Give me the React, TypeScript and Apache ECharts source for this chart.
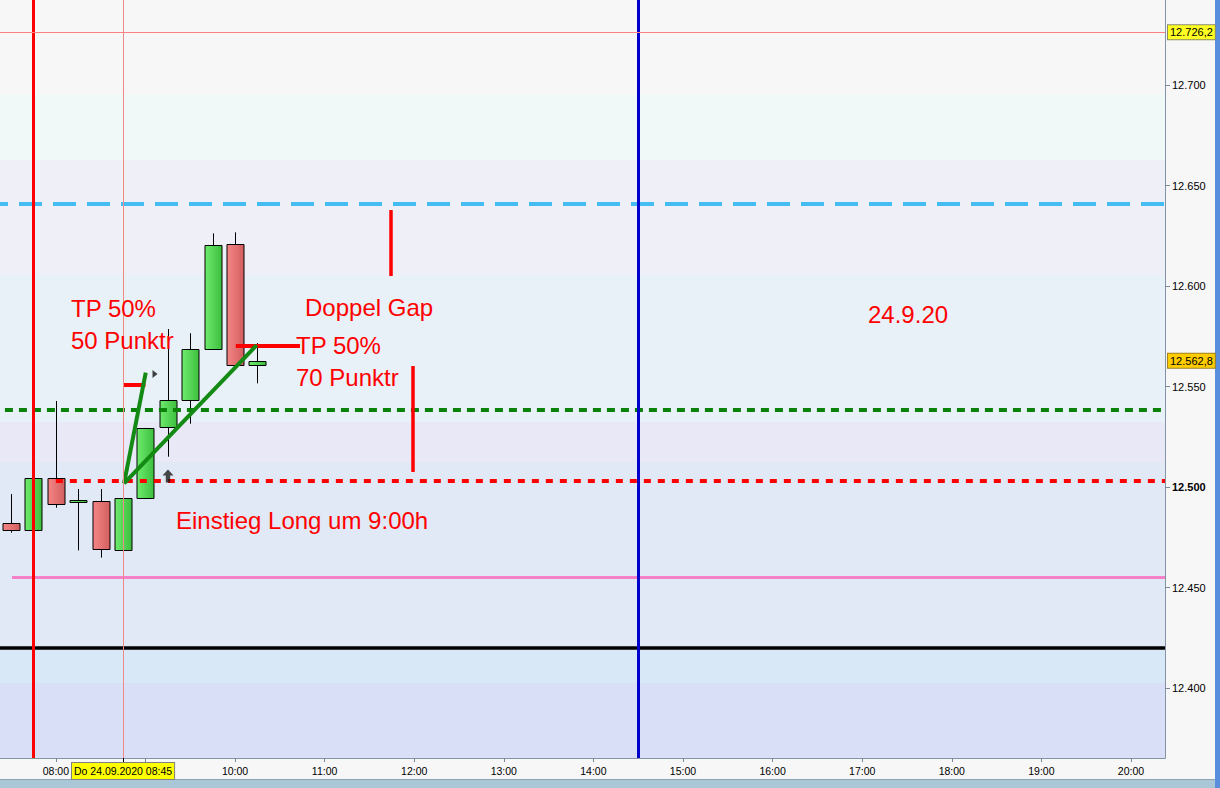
import React, { useEffect, useRef } from "react";
import * as echarts from "echarts";

// ---------- data ----------
const candleTimes = ["07:30", "07:45", "08:00", "08:15", "08:30", "08:45", "09:00", "09:15", "09:30", "09:45", "10:00", "10:15"];
const openPrices = [12482.0, 12478.5, 12504.3, 12492.4, 12492.9, 12468.5, 12494.4, 12529.7, 12543.1, 12568.5, 12620.9, 12560.6];
const closePrices = [12478.5, 12504.3, 12491.4, 12493.4, 12469.0, 12494.4, 12529.2, 12543.1, 12568.5, 12620.4, 12560.6, 12562.8];
const lowPrices = [12477.3, 12478.3, 12489.7, 12468.5, 12464.9, 12468.3, 12494.0, 12515.1, 12531.5, 12568.5, 12560.6, 12551.6];
const highPrices = [12496.5, 12504.5, 12542.8, 12499.0, 12499.0, 12494.6, 12529.4, 12578.6, 12576.5, 12626.2, 12626.7, 12571.6];

const priceTicks = [12400, 12450, 12500, 12550, 12600, 12650, 12700];
const hourTicks = ["08:00", "09:00", "10:00", "11:00", "12:00", "13:00", "14:00", "15:00", "16:00", "17:00", "18:00", "19:00", "20:00"];
const hiddenHourLabel = "09:00";
const crosshairTime = "08:45";
const crosshairLabel = "Do 24.09.2020 08:45";

const prevHigh = 12726.2;
const lastPrice = 12562.8;
const blueLevel = 12640.8;
const greenLevel = 12538.3;
const entryLevel = 12503.0;
const pinkLevel = 12455.2;
const blackLevel = 12419.9;

const bandEdges = [12742.3, 12695.5, 12662.7, 12605.5, 12532.3, 12512.4, 12419.9, 12402.5, 12365.2];
const bandColors = ["#F7F7F7", "#F0F8F8", "#EFEFF8", "#E8F0F8", "#E8E8F7", "#E1E8F6", "#D8E8F7", "#D8DFF6"];

const sessionStart = "07:45";
const usOpen = "14:30";
const entryLineStart = "08:00";
const greenLineStart = 445.9; // minutes
const pinkLineStart = 450.6; // minutes

// red annotation segments [t1, t2, price] and verticals [t, p1, p2]
const redTpMarks = [[525, 540, 12550.7], [600.5, 643.5, 12570.3]];
const redGapMarks = [[704.5, 12637.8, 12605.0], [719.2, 12560.2, 12507.5]];
// green trend lines [t1, p1, t2, p2]
const greenTrends = [[525.7, 12501.8, 540.2, 12556.9], [525.7, 12501.8, 614.5, 12570.6]];
const rightMarker = [546.4, 12556.2];
const upArrow = [555.1, 12505.5];

const X_MIN = 442.6;
const X_MAX = 1222.8;
const Y_MIN = 12365.2;
const Y_MAX = 12742.3;

// ---------- helpers ----------
const toMin = (s: string) => {
  const [h, m] = s.split(":").map(Number);
  return h * 60 + m;
};
const fmtTime = (v: number) => {
  const h = Math.floor(v / 60);
  const m = Math.round(v - h * 60);
  return String(h).padStart(2, "0") + ":" + String(m).padStart(2, "0");
};
const fmtPrice = (v: number) => {
  const s = Math.round(v).toString();
  return s.slice(0, s.length - 3) + "." + s.slice(-3);
};
const fmtPriceDec = (v: number) => {
  const s = v.toFixed(1);
  const [i, d] = s.split(".");
  return i.slice(0, i.length - 3) + "." + i.slice(-3) + "," + d;
};

const FONT = '"Liberation Sans", Arial, sans-serif';

export default function App() {
  const ref = useRef<HTMLDivElement>(null);

  useEffect(() => {
    if (!ref.current) return;
    const chart = echarts.init(ref.current, null, { renderer: "svg" });

    const candleData = candleTimes.map((t, i) => [toMin(t), openPrices[i], closePrices[i], lowPrices[i], highPrices[i]]);

    const greenFill = new echarts.graphic.LinearGradient(0, 0, 1, 0, [
      { offset: 0, color: "#6DEB6D" },
      { offset: 1, color: "#3DBE3D" },
    ]);
    const redFill = new echarts.graphic.LinearGradient(0, 0, 1, 0, [
      { offset: 0, color: "#F58585" },
      { offset: 1, color: "#D25F5F" },
    ]);

    const hLine = (t1: number, t2: number, p: number, style: any) => [
      { coord: [t1, p], lineStyle: style },
      { coord: [t2, p] },
    ];

    const markLines: any[] = [
      hLine(X_MIN, X_MAX, blueLevel, { color: "#45BDF2", width: 4, type: [23, 11], dashOffset: 15 }),
      hLine(greenLineStart, X_MAX, greenLevel, { color: "#0A820A", width: 4, type: [8, 6] }),
      hLine(toMin(entryLineStart), X_MAX, entryLevel, { color: "#FF0000", width: 4, type: [7, 7] }),
      hLine(pinkLineStart, X_MAX, pinkLevel, { color: "#F582C8", width: 3, type: "solid" }),
      hLine(X_MIN, X_MAX, blackLevel, { color: "#000000", width: 3.5, type: "solid" }),
      [{ coord: [toMin(sessionStart), Y_MIN], lineStyle: { color: "#FF0000", width: 3, type: "solid" } }, { coord: [toMin(sessionStart), Y_MAX] }],
      [{ coord: [toMin(usOpen), Y_MIN], lineStyle: { color: "#0000CC", width: 3, type: "solid" } }, { coord: [toMin(usOpen), Y_MAX] }],
      ...redTpMarks.map((s) => hLine(s[0], s[1], s[2], { color: "#FF0000", width: 4, type: "solid" })),
      ...redGapMarks.map((s) => [
        { coord: [s[0], s[1]], lineStyle: { color: "#FF0000", width: 3.5, type: "solid" } },
        { coord: [s[0], s[2]] },
      ]),
      ...greenTrends.map((s) => [
        { coord: [s[0], s[1]], lineStyle: { color: "#138A13", width: 4, type: "solid" } },
        { coord: [s[2], s[3]] },
      ]),
    ];

    const bands = bandColors.map((c, i) => [
      { yAxis: bandEdges[i], itemStyle: { color: c } },
      { yAxis: bandEdges[i + 1] },
    ]);

    const option: any = {
      animation: false,
      backgroundColor: "#F7F7F7",
      grid: { left: 0, top: 0, width: 1165, height: 758, containLabel: false },
      xAxis: {
        type: "value",
        min: X_MIN,
        max: X_MAX,
        position: "bottom",
        splitLine: { show: false },
        axisLine: { show: true, onZero: false, lineStyle: { color: "#8494A4", width: 1 } },
        axisTick: {
          show: true,
          length: 4,
          customValues: hourTicks.map(toMin),
          lineStyle: { color: "#7A8A9A" },
        },
        axisLabel: {
          show: true,
          customValues: hourTicks.filter((h) => h !== hiddenHourLabel).map(toMin),
          formatter: (v: number) => fmtTime(v),
          color: "#000",
          fontSize: 10.5,
          fontFamily: FONT,
          margin: 7,
        },
      },
      yAxis: {
        type: "value",
        min: Y_MIN,
        max: Y_MAX,
        position: "right",
        splitLine: { show: false },
        axisLine: { show: true, onZero: false, lineStyle: { color: "#8494A4", width: 1 } },
        axisTick: {
          show: true,
          length: 5,
          customValues: priceTicks,
          lineStyle: { color: "#7A8A9A" },
        },
        axisLabel: {
          show: true,
          customValues: priceTicks,
          formatter: (v: number) => (v === 12500 ? "{b|" + fmtPrice(v) + "}" : fmtPrice(v)),
          rich: { b: { fontWeight: "bold", fontSize: 11, color: "#000", fontFamily: FONT } },
          color: "#000",
          fontSize: 11,
          fontFamily: FONT,
          margin: 7,
        },
      },
      series: [
        {
          type: "line",
          data: [],
          z: 0,
          silent: true,
          markArea: { silent: true, data: bands },
        },
        {
          type: "custom",
          z: 2,
          silent: true,
          data: candleData,
          encode: { x: 0, y: [1, 2, 3, 4] },
          renderItem: (params: any, api: any) => {
            const t = api.value(0);
            const o = api.value(1);
            const c = api.value(2);
            const l = api.value(3);
            const h = api.value(4);
            const pO = api.coord([t, o]);
            const pC = api.coord([t, c]);
            const pL = api.coord([t, l]);
            const pH = api.coord([t, h]);
            const w = Math.round(api.size([15, 0])[0] * 0.76);
            const cx = Math.round(pO[0]) + 0.5;
            const top = Math.round(Math.min(pO[1], pC[1])) + 0.5;
            const bot = Math.round(Math.max(pO[1], pC[1])) + 0.5;
            const up = c >= o;
            return {
              type: "group",
              children: [
                {
                  type: "line",
                  shape: { x1: cx, y1: pH[1], x2: cx, y2: pL[1] },
                  style: { stroke: "#000", lineWidth: 1 },
                },
                {
                  type: "rect",
                  shape: { x: cx - w / 2, y: top, width: w, height: Math.max(bot - top, 2) },
                  style: { fill: up ? greenFill : redFill, stroke: "#000", lineWidth: 1 },
                },
              ],
            };
          },
        },
        {
          type: "line",
          data: [],
          z: 5,
          silent: true,
          markLine: {
            silent: true,
            symbol: ["none", "none"],
            label: { show: false },
            emphasis: { disabled: true },
            data: markLines,
          },
        },
        {
          type: "scatter",
          z: 6,
          silent: true,
          data: [
            { value: rightMarker, symbol: "path://M0,0 L6,4 L0,8 Z", symbolSize: [5, 8], itemStyle: { color: "#111" } },
            {
              value: upArrow,
              symbol: "path://M5,0 L10,6 L7,6 L7,13 L3,13 L3,6 L0,6 Z",
              symbolSize: [11, 13],
              itemStyle: { color: "#1C1C1C" },
            },
          ],
        },
      ],
    };

    chart.setOption(option);

    const yPx = (v: number) => chart.convertToPixel({ yAxisIndex: 0 }, v) as number;
    const xPx = (v: number) => chart.convertToPixel({ xAxisIndex: 0 }, v) as number;
    const crispX = Math.round(xPx(toMin(crosshairTime))) + 0.5;
    const crispY = Math.round(yPx(prevHigh)) + 0.5;

    const redText = (text: string, x: number, y: number) => ({
      type: "text",
      x,
      y,
      z: 20,
      style: { text, fill: "#FF0000", font: "24px " + FONT, verticalAlign: "middle", align: "left" },
    });

    const priceTag = (v: number, bg: string, border: string) => ({
      type: "text",
      x: 1168,
      y: yPx(v),
      z: 30,
      style: {
        text: fmtPriceDec(v),
        fill: "#000",
        font: "11px " + FONT,
        verticalAlign: "middle",
        align: "left",
        backgroundColor: bg,
        borderColor: border,
        borderWidth: 1,
        padding: [2, 2, 1, 2],
      },
    });

    chart.setOption({
      graphic: [
        { type: "line", shape: { x1: 0, y1: crispY, x2: 1165, y2: crispY }, style: { stroke: "#FF8080", lineWidth: 1 }, z: 8 },
        { type: "line", shape: { x1: crispX, y1: 0, x2: crispX, y2: 763 }, style: { stroke: "#F08A8A", lineWidth: 1 }, z: 8 },
        { type: "rect", shape: { x: 0, y: 780, width: 1220, height: 8 }, style: { fill: "#A9C7D7" }, z: 10 },
        { type: "rect", shape: { x: 0, y: 779, width: 1215, height: 1 }, style: { fill: "#8FA5B5" }, z: 10 },
        { type: "rect", shape: { x: 1215, y: 0, width: 5, height: 788 }, style: { fill: "#5A8EDC" }, z: 11 },
        {
          type: "line",
          shape: { x1: crispX, y1: 758, x2: crispX, y2: 763 },
          style: { stroke: "#000", lineWidth: 1 },
          z: 12,
        },
        {
          type: "text",
          x: xPx(toMin(crosshairTime)),
          y: 771,
          z: 30,
          style: {
            text: crosshairLabel,
            fill: "#000",
            font: "10.5px " + FONT,
            align: "center",
            verticalAlign: "middle",
            backgroundColor: "#FFFF00",
            borderColor: "#808080",
            borderWidth: 1,
            padding: [3, 2, 2, 2],
          },
        },
        priceTag(prevHigh, "#FFFF22", "#8A8A6A"),
        priceTag(lastPrice, "#FFCC00", "#A08020"),
        redText("TP 50%", 71, 308),
        redText("50 Punktr", 71, 340),
        redText("Doppel Gap", 305, 307),
        redText("TP 50%", 296, 345),
        redText("70 Punktr", 296, 377),
        redText("Einstieg Long um 9:00h", 176, 520),
        redText("24.9.20", 868, 314),
      ],
    });

    return () => chart.dispose();
  }, []);

  return (
    <div
      ref={ref}
      style={{ position: "absolute", left: 0, top: 0, width: 1220, height: 788, background: "#F7F7F7" }}
    />
  );
}
